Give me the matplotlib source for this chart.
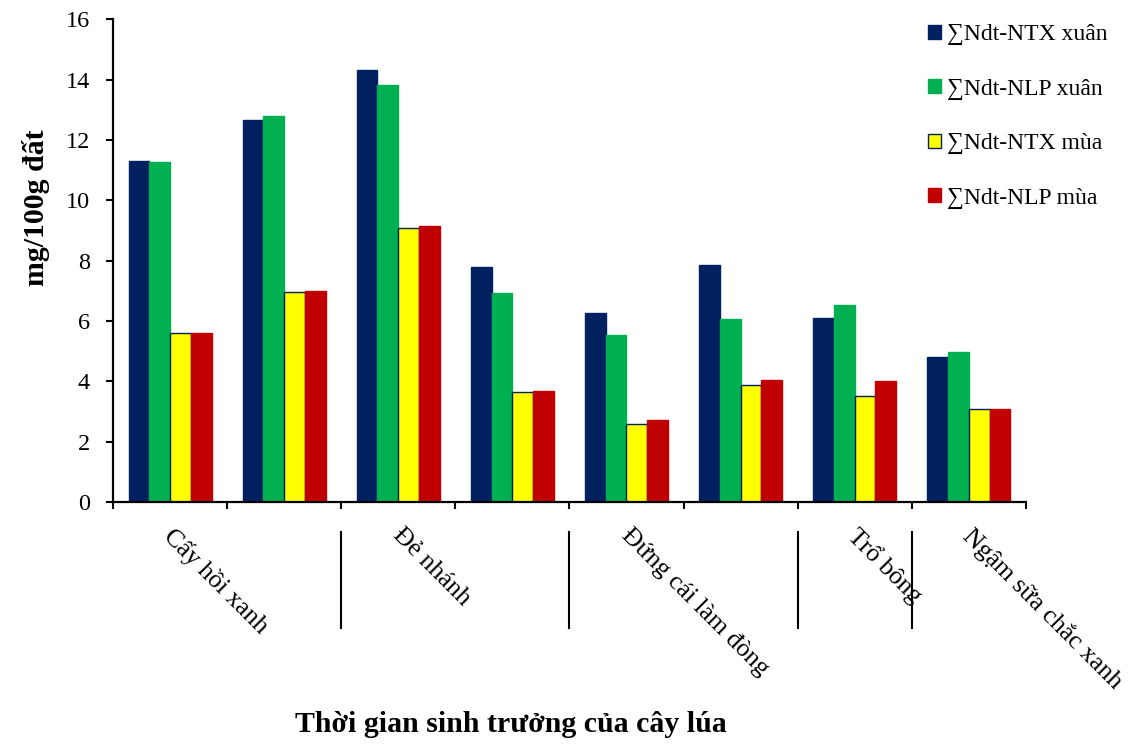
import matplotlib
matplotlib.use("Agg")
import matplotlib.pyplot as plt
import matplotlib.transforms as mtransforms
from matplotlib.patches import Patch
import numpy as np

plt.rcParams['font.family'] = ['Liberation Serif', 'DejaVu Serif']
plt.rcParams['font.size'] = 17

# Soil nitrogen (mg/100g soil) across rice growth stages
series_names = ["∑Ndt-NTX xuân", "∑Ndt-NLP xuân", "∑Ndt-NTX mùa", "∑Ndt-NLP mùa"]
ntx_xuan = [11.29, 12.66, 14.32, 7.78, 6.25, 7.85, 6.10, 4.80]
nlp_xuan = [11.26, 12.79, 13.82, 6.92, 5.55, 6.06, 6.54, 4.97]
ntx_mua = [5.60, 6.97, 9.08, 3.64, 2.57, 3.89, 3.53, 3.09]
nlp_mua = [5.60, 7.01, 9.14, 3.68, 2.73, 4.03, 4.00, 3.07]

stages = ["Cấy hồi xanh", "Đẻ nhánh", "Đứng cái làm đòng", "Trổ bông", "Ngậm sữa chắc xanh"]
stage_groups = [2, 2, 2, 1, 1]
y_ticks = [0, 2, 4, 6, 8, 10, 12, 14, 16]

colors = ["#002060", "#00B050", "#FFFF00", "#C00000"]
edges = ["#002060", "#00B050", "#002060", "#C00000"]

fig = plt.figure(figsize=(11.38, 7.47), dpi=100)
W, H = 1138, 747
ax = fig.add_axes([113 / W, 1 - 502 / H, 912.8 / W, 482.7 / H])

values = [ntx_xuan, nlp_xuan, ntx_mua, nlp_mua]
n = len(ntx_xuan)
x = np.arange(n)
bw = 0.182
for i, (vals, c, ec) in enumerate(zip(values, colors, edges)):
    ax.bar(x + (i - 1.5) * bw, vals, width=bw, color=c, edgecolor=ec,
           linewidth=1.0, label=series_names[i], zorder=2)

ax.set_xlim(-0.5, n - 0.5)
ax.set_ylim(0, 16)
ax.set_yticks(y_ticks)
ax.set_yticklabels([str(t) for t in y_ticks])
ax.set_xticks(np.arange(-0.5, n, 1.0))
ax.set_xticklabels([])

for s in ["top", "right"]:
    ax.spines[s].set_visible(False)
for s in ["left", "bottom"]:
    ax.spines[s].set_linewidth(1.6)
    ax.spines[s].set_color("black")
ax.tick_params(axis="both", direction="out", length=5, width=1.5, color="black")
ax.tick_params(axis="y", pad=11.5, labelsize=17.5)

# Stage labels under the axis, with separators between stages
trans = mtransforms.blended_transform_factory(ax.transData, ax.transAxes)
px = 1 / 482.7
left = -0.5
bounds = []
for name, g in zip(stages, stage_groups):
    ax.text(left + 0.55, -22 * px, name, transform=trans, rotation=-45,
            rotation_mode="anchor", ha="left", va="top", fontsize=18.5,
            clip_on=False)
    left += g
    bounds.append(left)
for b in bounds[:-1]:
    ax.plot([b, b], [-30 * px, -126 * px], transform=trans, color="black",
            linewidth=1.5, clip_on=False)

fig.text(36 / W, 1 - 208 / H, "mg/100g đất", rotation=90, ha="center",
         va="center", fontsize=21.5, fontweight="bold")
fig.text(511 / W, 1 - 724 / H, "Thời gian sinh trưởng của cây lúa",
         ha="center", va="center", fontsize=21.5, fontweight="bold")

handles = [Patch(facecolor=c, edgecolor=ec, linewidth=1.0)
           for c, ec in zip(colors, edges)]
fig.legend(handles, series_names, loc="upper left",
           bbox_to_anchor=(928 / W, 1 - 24 / H), frameon=False,
           borderpad=0, borderaxespad=0, handlelength=0.54,
           handleheight=0.54, handletextpad=0.25, labelspacing=1.42,
           fontsize=17)

fig.savefig("out.png", dpi=100, facecolor="white")
